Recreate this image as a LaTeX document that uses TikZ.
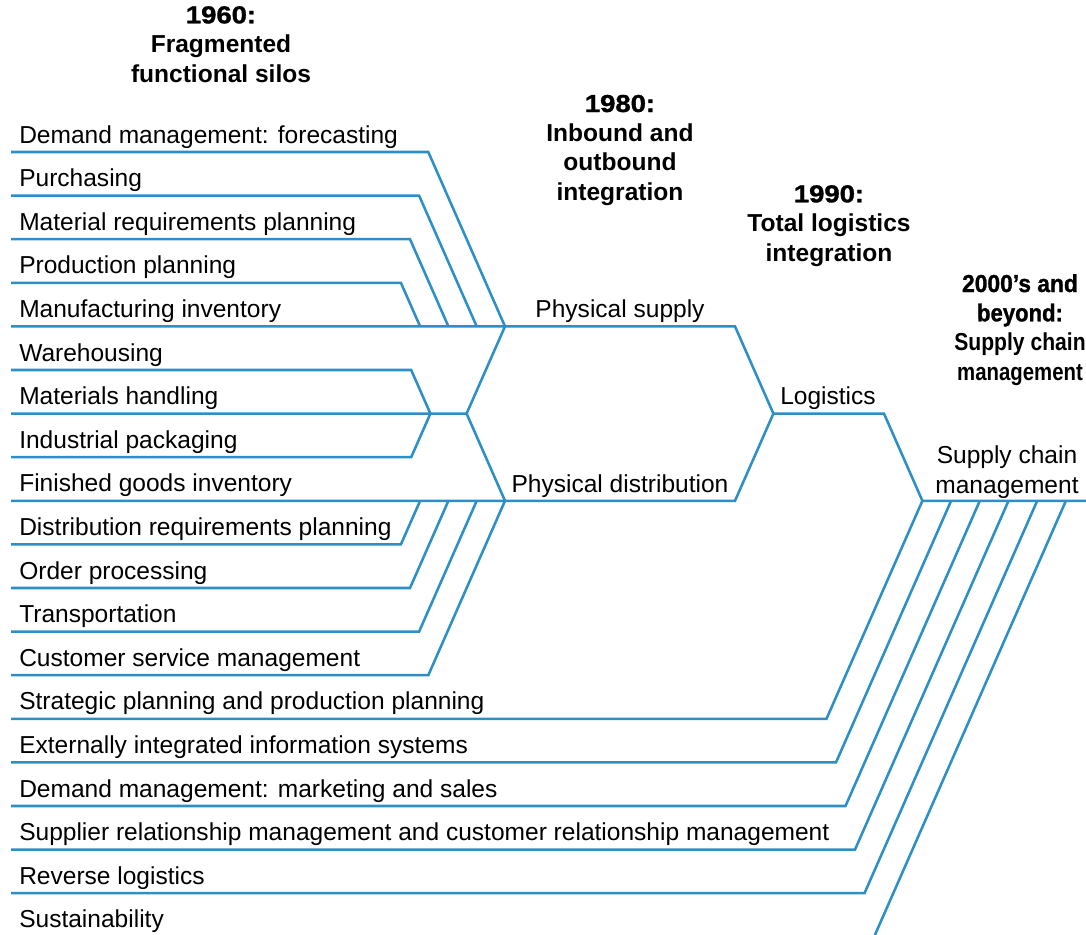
\documentclass[tikz,border=0pt]{standalone}
\usepackage{fontspec}
\usepackage{graphicx}
\setmainfont{Liberation Sans}
\newfontfamily\heavyfont[FakeBold=1.2]{Liberation Sans Bold}
\newcommand{\yearlbl}[1]{\scalebox{1.12}[1]{\heavyfont #1}}
\newcommand{\narrowlbl}[2]{\scalebox{#1}[1]{#2}}
\definecolor{lineblue}{RGB}{44,143,198}
\begin{document}
\begin{tikzpicture}[x=0.75pt,y=-0.75pt,
  conn/.style={draw=lineblue,line width=1.9pt,line join=miter},
  itemtext/.style={anchor=base west,inner sep=0pt,font=\fontsize{18.4pt}{22pt}\selectfont},
  midtext/.style={anchor=base,inner sep=0pt,align=center,font=\fontsize{18.4pt}{22pt}\selectfont},
  headtext/.style={anchor=base,inner sep=0pt,align=center,font=\fontsize{18.4pt}{22pt}\selectfont\bfseries}]
\useasboundingbox (0,0) rectangle (1086,935);
% item texts
\foreach \i/\t in {1/Demand management: forecasting,2/Purchasing,3/Material requirements planning,4/Production planning,5/Manufacturing inventory,6/Warehousing,7/Materials handling,8/Industrial packaging,9/Finished goods inventory,10/Distribution requirements planning,11/Order processing,12/Transportation,13/Customer service management,14/Strategic planning and production planning,15/Externally integrated information systems,16/Demand management: marketing and sales,17/Supplier relationship management and customer relationship management,18/Reverse logistics,19/Sustainability}{
  \node[itemtext] (t\i) at (19,{152+43.6*(\i-1)-9}) {\t};
  \coordinate (s\i) at (11,{152+43.6*(\i-1)});
}
% headings (anchor = baseline of last line)
\node[headtext] (h1960) at (221,82) {\yearlbl{1960:}\\Fragmented\\functional silos};
\node[headtext] (h1980) at (620,200) {\yearlbl{1980:}\\Inbound and\\outbound\\integration};
\node[headtext] (h1990) at (829,261) {\yearlbl{1990:}\\Total logistics\\integration};
\node[headtext] (h2000) at (1020,380) {\narrowlbl{0.93}{\heavyfont 2000’s and}\\\narrowlbl{0.9}{\heavyfont beyond:}\\\narrowlbl{0.86}{Supply chain}\\\narrowlbl{0.83}{management}};
% middle labels
\node[midtext] (ps) at (620,317.5) {Physical supply};
\node[midtext] (pd) at (620,492) {Physical distribution};
\node[midtext] (lg) at (828,404.5) {Logistics};
\node[midtext] (scm) at (1007,493) {Supply chain\\management};
% key coordinates
\coordinate (PSL) at (505,326.4);
\coordinate (PSR) at (735,326.4);
\coordinate (LV) at (466.6,413.6);
\coordinate (RV) at (773.4,413.6);
\coordinate (PDL) at (505,500.8);
\coordinate (PDR) at (735,500.8);
\coordinate (LGR) at (884,413.6);
\coordinate (SCM) at (922.4,500.8);
\coordinate (SCME) at (1086,500.8);
\coordinate (J) at (430.4,413.6);
% group A (items 1-4)
\coordinate (c1) at (428.3,152);   \coordinate (e1) at (505,326.4);
\coordinate (c2) at (419.1,195.6); \coordinate (e2) at (476.7,326.4);
\coordinate (c3) at (410,239.2);   \coordinate (e3) at (448.4,326.4);
\coordinate (c4) at (400.9,282.8); \coordinate (e4) at (420.1,326.4);
% group B
\coordinate (c6) at (411.2,370);
\coordinate (c8) at (411.2,457.2);
% group C (items 10-13)
\coordinate (c10) at (400.9,544.4); \coordinate (e10) at (420.1,500.8);
\coordinate (c11) at (410,588);     \coordinate (e11) at (448.4,500.8);
\coordinate (c12) at (419.1,631.6); \coordinate (e12) at (476.7,500.8);
\coordinate (c13) at (428.3,675.2); \coordinate (e13) at (505,500.8);
% group D (items 14-18 + bottom)
\coordinate (c14) at (826.5,718.8); \coordinate (e14) at (922.4,500.8);
\coordinate (c15) at (836,762.4);   \coordinate (e15) at (951.1,500.8);
\coordinate (c16) at (845.5,806);   \coordinate (e16) at (979.8,500.8);
\coordinate (c17) at (855,849.6);   \coordinate (e17) at (1008.5,500.8);
\coordinate (c18) at (864.5,893.2); \coordinate (e18) at (1037.2,500.8);
\coordinate (bot) at (874.9,935);   \coordinate (e19) at (1065.9,500.8);
% connectors
\foreach \k in {1,2,3,4,10,11,12,13,14,15,16,17,18}{
  \draw[conn] (s\k) -- (c\k) -- (e\k);
}
\draw[conn] (bot) -- (e19);
\draw[conn] (s5) -- (PSL) -- (PSR) -- (RV) -- (LGR) -- (SCM) -- (SCME);
\draw[conn] (s9) -- (PDL) -- (PDR) -- (RV);
\draw[conn] (s7) -- (J) -- (LV);
\draw[conn] (PSL) -- (LV) -- (PDL);
\draw[conn] (s6) -- (c6) -- (J) -- (c8) -- (s8);
\end{tikzpicture}
\end{document}
